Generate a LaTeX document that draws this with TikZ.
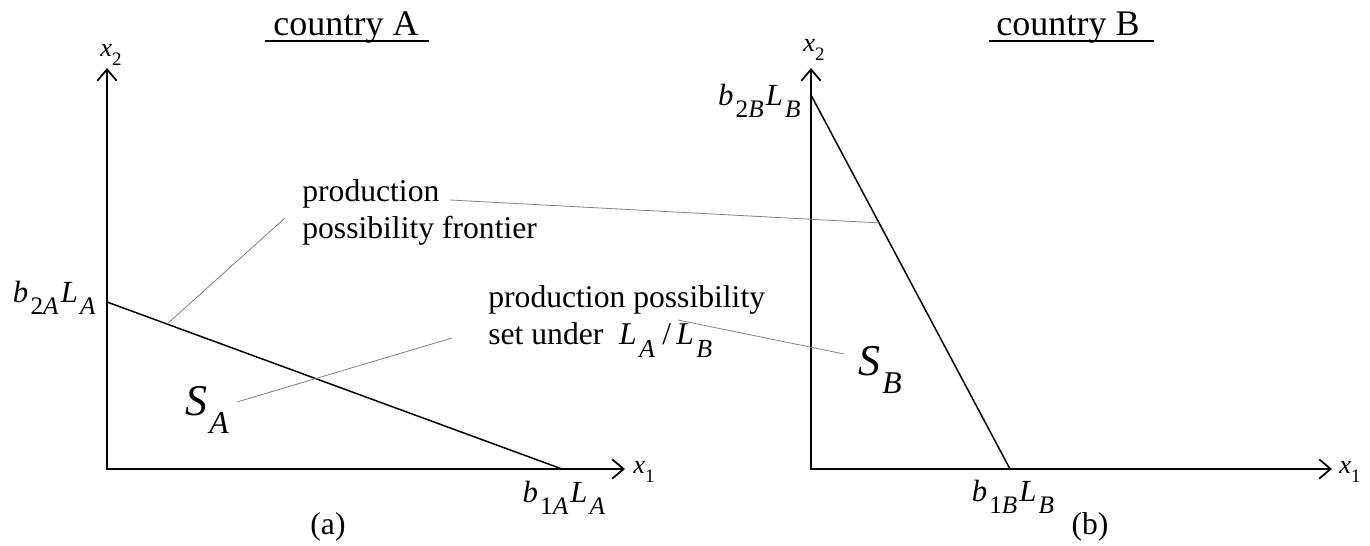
\documentclass[tikz,border=0pt]{standalone}
\usepackage{fontspec}
\setmainfont{Liberation Serif}
\usetikzlibrary{arrows.meta,calc}
\newcommand\lowsub[1]{\raisebox{-0.32em}{\scalebox{0.72}{#1}}}
\newcommand\msub[1]{\kern0.07em\raisebox{-0.38em}{\scalebox{0.82}{#1}}\kern0.07em}
\newcommand\bsub[1]{\kern0.05em\raisebox{-0.42em}{\scalebox{0.72}{#1}}}
\newcommand\iv[1]{\textit{#1}}
\begin{document}
\begin{tikzpicture}[x=0.02cm,y=-0.02cm,
  axisline/.style={line width=1.1pt, line join=miter,
     {Straight Barb[length=6.5pt,width=11pt,line width=1pt]}-{Straight Barb[length=6.5pt,width=11pt,line width=1pt]}},
  ppfline/.style={line width=0.85pt},
  leader/.style={line width=0.45pt, black!50},
  txt/.style={inner sep=0pt, font=\fontsize{18}{21}\selectfont},
  mth/.style={inner sep=0pt, font=\fontsize{17.5}{21}\selectfont},
  big/.style={inner sep=0pt, font=\fontsize{25}{30}\selectfont},
  ttl/.style={inner sep=0pt, font=\fontsize{20.5}{24}\selectfont},
  axl/.style={inner sep=0pt, font=\fontsize{15}{18}\selectfont},
  capl/.style={inner sep=0pt, font=\fontsize{18}{21}\selectfont}]
\useasboundingbox (0,0) rectangle (1370,546);
% ---------- panel A ----------
\coordinate (OA) at (107,469);
\coordinate (yA) at (107,68);
\coordinate (xA) at (625,469);
\draw[axisline] (yA) -- (OA) -- (xA);
\node[axl] (x2A) at (111,55) {\iv{x}\lowsub{2}};
\node[axl,anchor=west] (x1A) at (633,472) {\iv{x}\lowsub{1}};
\coordinate (pA2) at (107,302);
\coordinate (pA1) at (562,469);
\draw[ppfline] (pA2) -- (pA1);
\node[mth,anchor=base east] (b2A) at (98,303) {\iv{b}\msub{2\iv{A}}\iv{L}\msub{\iv{A}}};
\node[mth,anchor=base] (b1A) at (565,503) {\iv{b}\msub{1\iv{A}}\iv{L}\msub{\iv{A}}};
\node[capl] (capA) at (328,527) {(a)};
\node[ttl] (ttlA) at (346,28) {country A};
\draw[line width=0.8pt] (265,41) -- (429,41);
\node[big] (SA) at (207,410) {\iv{S}\bsub{\iv{A}}};
% labels
\node[txt,anchor=base west] (ppf1) at (302,202) {production};
\node[txt,anchor=base west] (ppf2) at (302,239) {possibility frontier};
\node[txt,anchor=base west] (pps1) at (488,308) {production possibility};
\node[txt,anchor=base west] (pps2) at (488,345) {set under \ \iv{L}\msub{\iv{A}}\,/\,\iv{L}\msub{\iv{B}}};
% ---------- panel B ----------
\coordinate (OB) at (811,469);
\coordinate (yB) at (811,68);
\coordinate (xB) at (1332,469);
\draw[axisline] (yB) -- (OB) -- (xB);
\node[axl] (x2B) at (814,50) {\iv{x}\lowsub{2}};
\node[axl,anchor=west] (x1B) at (1339,472) {\iv{x}\lowsub{1}};
\coordinate (pB2) at (811,95);
\coordinate (pB1) at (1010,469);
\draw[ppfline] (pB2) -- (pB1);
\node[mth,anchor=base east] (b2B) at (803,106) {\iv{b}\msub{2\iv{B}}\iv{L}\msub{\iv{B}}};
\node[mth,anchor=base] (b1B) at (1014,502) {\iv{b}\msub{1\iv{B}}\iv{L}\msub{\iv{B}}};
\node[capl] (capB) at (1090,527) {(b)};
\node[ttl] (ttlB) at (1068,28) {country B};
\draw[line width=0.8pt] (989,41) -- (1154,41);
\node[big] (SB) at (880,370) {\iv{S}\bsub{\iv{B}}};
% ---------- leaders ----------
\coordinate (fA) at ($(pA2)!0.132!(pA1)$);
\coordinate (fAend) at (285,218);
\draw[leader] (fA) -- (fAend);
\coordinate (fBs) at (450,200);
\coordinate (fB) at ($(pB2)!0.342!(pB1)$);
\draw[leader] (fBs) -- (fB);
\coordinate (sAs) at (237,402);
\coordinate (sAe) at (452,338);
\draw[leader] (sAs) -- (sAe);
\coordinate (sBs) at (678,320);
\coordinate (sBe) at (844,354);
\draw[leader] (sBs) -- (sBe);
\end{tikzpicture}
\end{document}
